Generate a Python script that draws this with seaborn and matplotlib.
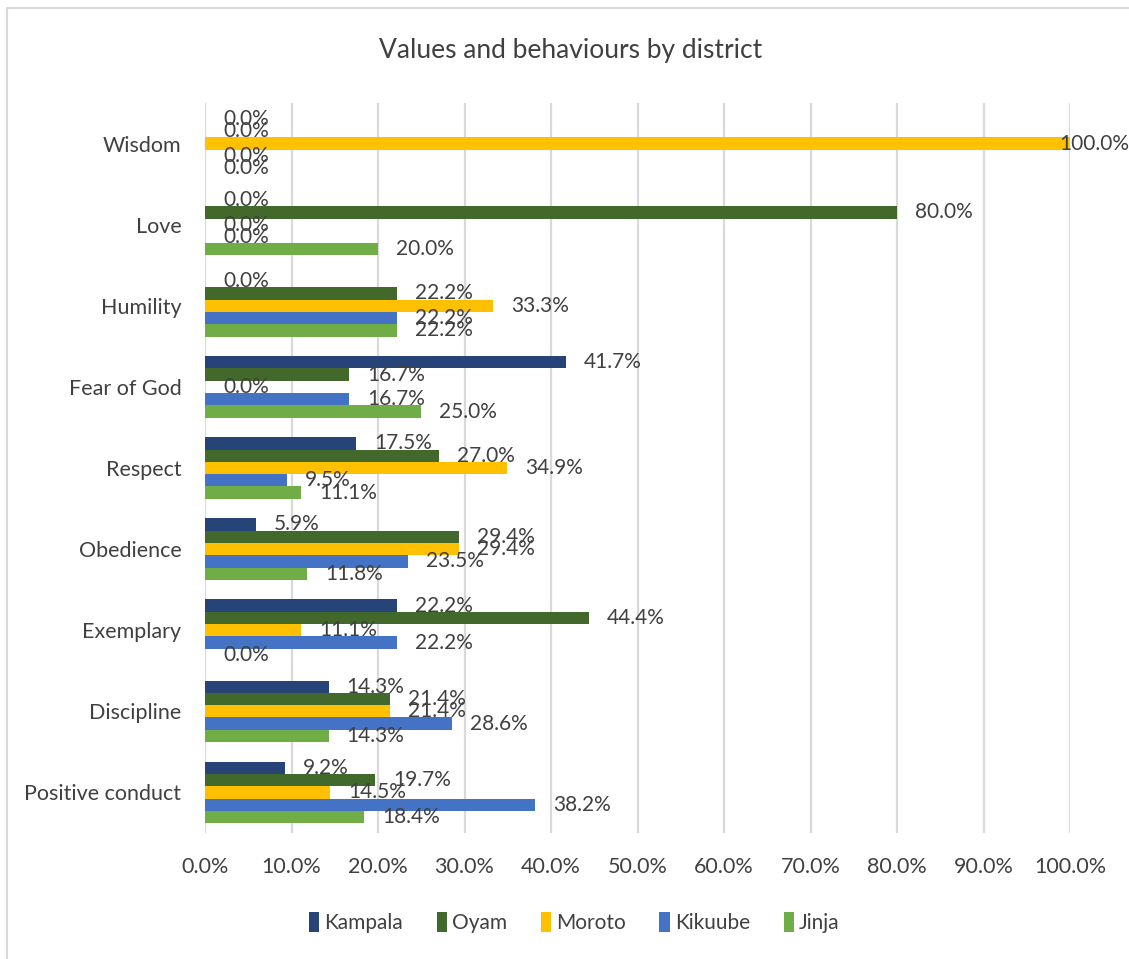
import matplotlib
matplotlib.use("Agg")
import matplotlib.pyplot as plt
from matplotlib.patches import Rectangle
from matplotlib.ticker import FuncFormatter, MultipleLocator
import pandas as pd
import seaborn as sns

# Share of responses (%) per value, by district
categories = ["Wisdom", "Love", "Humility", "Fear of God", "Respect",
              "Obedience", "Exemplary", "Discipline", "Positive conduct"]
districts = ["Kampala", "Oyam", "Moroto", "Kikuube", "Jinja"]

kampala = [0.0, 0.0, 0.0, 41.7, 17.5, 5.9, 22.2, 14.3, 9.2]
oyam    = [0.0, 80.0, 22.2, 16.7, 27.0, 29.4, 44.4, 21.4, 19.7]
moroto  = [100.0, 0.0, 33.3, 0.0, 34.9, 29.4, 11.1, 21.4, 14.5]
kikuube = [0.0, 0.0, 22.2, 16.7, 9.5, 23.5, 22.2, 28.6, 38.2]
jinja   = [0.0, 20.0, 22.2, 25.0, 11.1, 11.8, 0.0, 14.3, 18.4]

colors = ["#264478", "#43682B", "#FFC000", "#4472C4", "#70AD47"]

series = dict(zip(districts, [kampala, oyam, moroto, kikuube, jinja]))
rows = []
for d, vals in series.items():
    for c, v in zip(categories, vals):
        rows.append({"Value": c, "District": d, "Percent": v})
df = pd.DataFrame(rows)

sns.set_theme(style="white")
plt.rcParams["font.family"] = ["Lato", "DejaVu Sans"]
text_color = "#404040"

W, H = 1129, 959
fig = plt.figure(figsize=(W / 100, H / 100), dpi=100)
ax = fig.add_axes([205 / W, 1 - 833 / H, (1070 - 205) / W, (833 - 103) / H])

sns.barplot(data=df, y="Value", x="Percent", hue="District",
            order=categories, hue_order=districts, palette=colors,
            orient="h", width=0.76, saturation=1, linewidth=0,
            ax=ax, legend=True)

ax.set_xlim(0, 100)
ax.set_ylim(len(categories) - 0.5, -0.5)
ax.xaxis.set_major_locator(MultipleLocator(10))
ax.xaxis.set_major_formatter(FuncFormatter(lambda v, _: f"{v:.1f}%"))
ax.grid(axis="x", color="#D9D9D9", linewidth=1.6)
ax.grid(axis="y", visible=False)
ax.set_axisbelow(True)
for s in ax.spines.values():
    s.set_visible(False)
ax.set_xlabel("")
ax.set_ylabel("")
ax.tick_params(axis="x", length=0, pad=17, labelsize=15.5, labelcolor=text_color)
ax.tick_params(axis="y", length=0, pad=17, labelsize=15.5, labelcolor=text_color)

# Value labels next to each bar; a full-length bar keeps its label inside the chart
for container in ax.containers:
    for bar in container:
        v = bar.get_width()
        pad = -8 if v >= 99.5 else 13
        ax.annotate(f"{v:.1f}%", xy=(v, bar.get_y() + bar.get_height() / 2),
                    xytext=(pad, 0), textcoords="offset points",
                    ha="left", va="center", fontsize=15, color=text_color)

handles, labels = ax.get_legend_handles_labels()
ax.legend(handles, labels, loc="upper center", bbox_to_anchor=(0.427, -0.082),
          ncol=5, frameon=False, fontsize=15, handlelength=0.5, handleheight=1.1,
          handletextpad=0.25, columnspacing=1.6, labelcolor=text_color)

fig.suptitle("Values and behaviours by district", x=0.505, y=0.96,
             fontsize=19, color=text_color)

# Chart area border
fig.patches.append(Rectangle((7 / W, -0.1), 1.2, 1 - 8 / H + 0.1,
                             transform=fig.transFigure, fill=False,
                             edgecolor="#D9D9D9", linewidth=1.5))

fig.savefig("out.png", dpi=100)
